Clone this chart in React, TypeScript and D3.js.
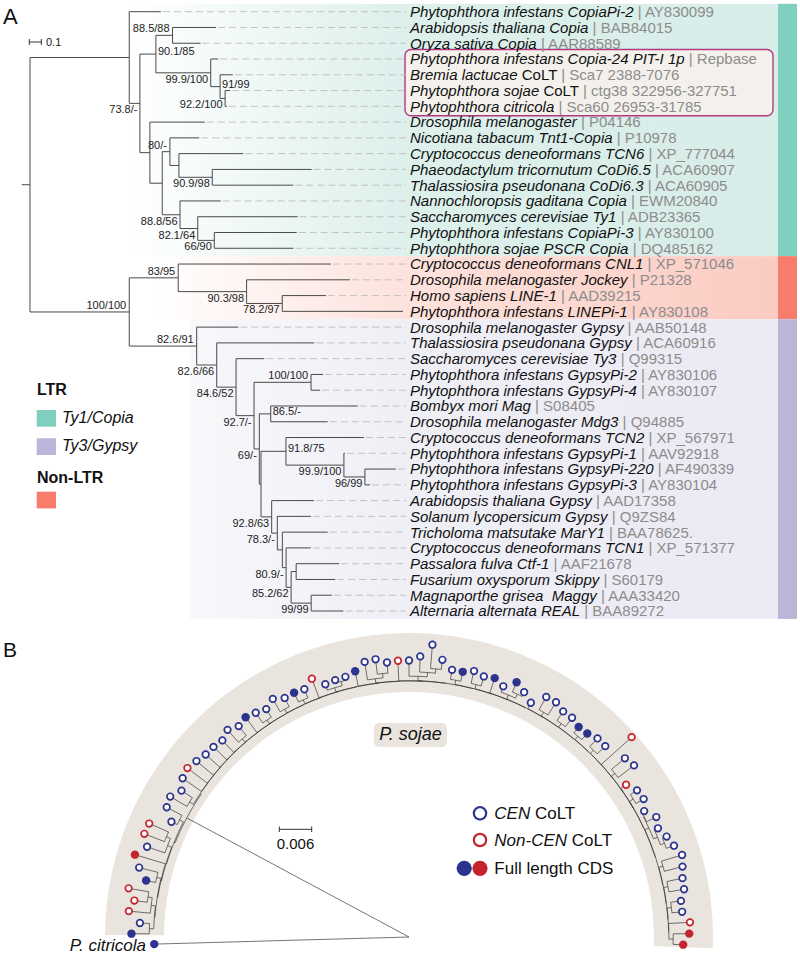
import React from 'react';
import * as d3 from 'd3';

const FONT = '"Liberation Sans", Arial, Helvetica, sans-serif';

// ---------------- Panel A data ----------------
const leafNames: [string, string][] = [
  ["Phytophthora infestans CopiaPi-2", ""],
  ["Arabidopsis thaliana Copia", ""],
  ["Oryza sativa Copia", ""],
  ["Phytophthora infestans Copia-24 PIT-I 1p", ""],
  ["Bremia lactucae", " CoLT"],
  ["Phytophthora sojae", " CoLT"],
  ["Phytophthora citricola", ""],
  ["Drosophila melanogaster", ""],
  ["Nicotiana tabacum Tnt1-Copia", ""],
  ["Cryptococcus deneoformans TCN6", ""],
  ["Phaeodactylum tricornutum CoDi6.5", ""],
  ["Thalassiosira pseudonana CoDi6.3", ""],
  ["Nannochloropsis gaditana Copia", ""],
  ["Saccharomyces cerevisiae Ty1", ""],
  ["Phytophthora infestans CopiaPi-3", ""],
  ["Phytophthora sojae PSCR Copia", ""],
  ["Cryptococcus deneoformans CNL1", ""],
  ["Drosophila melanogaster Jockey", ""],
  ["Homo sapiens LINE-1", ""],
  ["Phytophthora infestans LINEPi-1", ""],
  ["Drosophila melanogaster Gypsy", ""],
  ["Thalassiosira pseudonana Gypsy", ""],
  ["Saccharomyces cerevisiae Ty3", ""],
  ["Phytophthora infestans GypsyPi-2", ""],
  ["Phytophthora infestans GypsyPi-4", ""],
  ["Bombyx mori Mag", ""],
  ["Drosophila melanogaster Mdg3", ""],
  ["Cryptococcus deneoformans TCN2", ""],
  ["Phytophthora infestans GypsyPi-1", ""],
  ["Phytophthora infestans GypsyPi-220", ""],
  ["Phytophthora infestans GypsyPi-3", ""],
  ["Arabidopsis thaliana Gypsy", ""],
  ["Solanum lycopersicum Gypsy", ""],
  ["Tricholoma matsutake MarY1", ""],
  ["Cryptococcus deneoformans TCN1", ""],
  ["Passalora fulva Ctf-1", ""],
  ["Fusarium oxysporum Skippy", ""],
  ["Magnaporthe grisea  Maggy", ""],
  ["Alternaria alternata REAL", ""],
];

const accessions = [
  "AY830099", "BAB84015", "AAR88589", "Repbase", "Sca7 2388-7076", "ctg38 322956-327751",
  "Sca60 26953-31785", "P04146", "P10978", "XP_777044", "ACA60907", "ACA60905", "EWM20840",
  "ADB23365", "AY830100", "DQ485162", "XP_571046", "P21328", "AAD39215", "AY830108",
  "AAB50148", "ACA60916", "Q99315", "AY830106", "AY830107", "S08405", "Q94885", "XP_567971",
  "AAV92918", "AF490339", "AY830104", "AAD17358", "Q9ZS84", "BAA78625.", "XP_571377",
  "AAF21678", "S60179", "AAA33420", "BAA89272",
];

// [id, parentId, branch length, support]
type Row = [string, string | null, number, string];
const treeRowsA: Row[] = [
  ["root", null, 0, ""],
  ["C0", "root", 0.827, ""],
  ["0", "C0", 0.264, ""],
  ["C1", "C0", 0.089, "73.8/-"],
  ["C2", "C1", 0.133, "90.1/85"],
  ["C3", "C2", 0.139, "88.5/88"],
  ["1", "C3", 0.361, ""],
  ["2", "C3", 0.233, ""],
  ["C4", "C2", 0.457, "99.9/100"],
  ["3", "C4", 0.063, ""],
  ["C5", "C4", 0.078, "91/99"],
  ["4", "C5", 0.106, ""],
  ["C6", "C5", 0.042, "92.2/100"],
  ["5", "C6", 0.042, ""],
  ["6", "C6", 0.014, ""],
  ["C7", "C1", 0.083, ""],
  ["7", "C7", 0.458, ""],
  ["C8", "C7", 0.103, ""],
  ["C9", "C8", 0.064, "80/-"],
  ["8", "C9", 0.244, ""],
  ["C10", "C9", 0.075, ""],
  ["9", "C10", 0.536, ""],
  ["C11", "C10", 0.278, "90.9/98"],
  ["10", "C11", 0.828, ""],
  ["11", "C11", 0.675, ""],
  ["C12", "C8", 0.148, "88.8/56"],
  ["12", "C12", 0.339, ""],
  ["C13", "C12", 0.148, "82.1/64"],
  ["13", "C13", 0.833, ""],
  ["C14", "C13", 0.138, "66/90"],
  ["14", "C14", 0.687, ""],
  ["15", "C14", 0.658, ""],
  ["R2", "root", 0.827, "100/100"],
  ["N0", "R2", 0.408, "83/95"],
  ["16", "N0", 1.273, ""],
  ["N1", "N0", 0.57, "90.3/98"],
  ["17", "N1", 0.861, ""],
  ["N2", "N1", 0.297, "78.2/97"],
  ["18", "N2", 0.364, ""],
  ["19", "N2", 1.006, ""],
  ["G0", "R2", 0.562, "82.6/91"],
  ["20", "G0", 0.347, ""],
  ["G1", "G0", 0.167, "82.6/66"],
  ["21", "G1", 0.813, ""],
  ["G2", "G1", 0.161, "84.6/52"],
  ["22", "G2", 0.236, ""],
  ["G3", "G2", 0.15, "92.7/-"],
  ["G4", "G3", 0.475, "100/100"],
  ["23", "G4", 0.1, ""],
  ["24", "G4", 0.075, ""],
  ["G5", "G3", 0.044, "69/-"],
  ["G6", "G5", 0.095, "86.5/-"],
  ["25", "G6", 0.725, ""],
  ["26", "G6", 0.475, ""],
  ["G7", "G5", 0.014, ""],
  ["G8", "G7", 0.208, "91.8/75"],
  ["27", "G8", 0.65, ""],
  ["G9", "G8", 0.483, "99.9/100"],
  ["28", "G9", 0.008, ""],
  ["G10", "G9", 0.175, "96/99"],
  ["29", "G10", 0.258, ""],
  ["30", "G10", 0.042, ""],
  ["G11", "G7", 0.089, "92.8/63"],
  ["31", "G11", 0.353, ""],
  ["G12", "G11", 0.047, "78.3/-"],
  ["32", "G12", 0.281, ""],
  ["G13", "G12", 0.042, ""],
  ["33", "G13", 0.378, ""],
  ["G14", "G13", 0.031, "80.9/-"],
  ["34", "G14", 0.206, ""],
  ["G15", "G14", 0.042, "85.2/62"],
  ["G16", "G15", 0.042, ""],
  ["35", "G16", 0.358, ""],
  ["36", "G16", 0.325, ""],
  ["G17", "G15", 0.167, "99/99"],
  ["37", "G17", 0.173, ""],
  ["38", "G17", 0.269, ""],
];

const cladesA = [
  { name: "Ty1/Copia", from: 0, to: 15 },
  { name: "Non-LTR", from: 16, to: 19 },
  { name: "Ty3/Gypsy", from: 20, to: 38 },
];
const highlightRows = [3, 6];
const supportAbove = ["88.5/88", "80/-", "100/100", "83/95", "82.6/91"];
const supportRight = ["90.1/85", "91/99", "86.5/-", "91.8/75"];

// ---------------- Panel B data ----------------
// o = CEN CoLT, r = Non-CEN CoLT, B / R = full length CDS (blue / red)
const bLeafKinds = [
  "B", "o", "r", "r", "r", "B", "o", "R", "o", "r",
  "r", "o", "o", "o", "o", "o", "r", "o", "o", "o",
  "o", "o", "o", "B", "o", "o", "o", "o", "B", "o",
  "r", "o", "o", "o", "B", "o", "o", "o", "r", "o",
  "o", "o", "o", "o", "B", "o", "o", "B", "o", "B",
  "o", "o", "o", "o", "o", "o", "B", "B", "o", "o",
  "r", "o", "o", "r", "o", "o", "o", "o", "o", "o",
  "o", "o", "o", "o", "o", "o", "o", "r", "R", "R",
];
// root-to-tip distance, in units of 0.001
const bTipDist = [
  51.4, 49.9, 52.1, 51.3, 52.7, 49.8, 51.6, 53.0, 51.3, 52.6,
  52.5, 48.9, 50.9, 51.3, 50.1, 51.2, 51.6, 51.1, 50.6, 50.5,
  50.2, 51.0, 50.2, 50.7, 50.3, 49.8, 50.8, 49.9, 50.0, 49.8,
  51.1, 49.3, 49.5, 49.6, 50.2, 51.6, 51.8, 51.0, 51.2, 51.2,
  52.0, 54.3, 51.7, 50.1, 50.1, 50.7, 50.2, 50.5, 49.6, 51.2,
  50.1, 48.9, 51.2, 51.3, 50.6, 50.6, 50.0, 50.1, 50.7, 50.7,
  55.4, 51.9, 52.4, 49.1, 50.2, 50.4, 49.4, 50.9, 50.3, 51.2,
  51.9, 52.8, 52.3, 51.8, 51.7, 50.8, 50.8, 52.1, 51.9, 50.8,
];
const bLeftGroups = [2, 3, 2, 1, 3, 2];
const bRightGroups = [2, 1, 1, 1, 1, 1, 1, 2, 1, 2, 2, 2, 1, 3, 1, 3, 1, 4, 2, 2, 1, 3, 1, 2, 2, 2, 2, 1, 2, 1, 2, 5, 2, 2, 2, 1, 2];
const citricolaDist = 47.2;
const sojaeDist = 46.7;
const ladderBase = 46.9;
const leftStep = 0.1;
const rightStep = 0.035;

const BLUE = "#2b338f";
const RED = "#c4242d";

// ---------------- Layout A ----------------
const xA = d3.scaleLinear().domain([0, 1]).range([30, 150]);
const yA = d3.scaleLinear().domain([0, 38]).range([11.7, 611]);

function layoutA() {
  const root: any = d3.stratify<Row>().id(d => d[0]).parentId(d => d[1])(treeRowsA);
  root.eachBefore((n: any) => { n.cum = n.parent ? n.parent.cum + n.data[2] : 0; n.px = xA(n.cum); });
  root.leaves().forEach((l: any, i: number) => { l.py = yA(i); l.idx = i; });
  root.eachAfter((n: any) => {
    if (n.children) n.py = (n.children[0].py + n.children[n.children.length - 1].py) / 2;
  });
  return root;
}

// ---------------- Layout B ----------------
type BN = { kind?: string; dist: number; children?: BN[]; citricola?: boolean };
function buildB(): BN {
  const leaves: BN[] = bLeafKinds.map((k, i) => ({ kind: k, dist: bTipDist[i] }));
  let pos = 0;
  const take = (n: number) => { const s = leaves.slice(pos, pos + n); pos += n; return s; };
  const group = (ls: BN[], base: number): BN => {
    if (ls.length === 1) return ls[0];
    const minTip = Math.min(...ls.map(l => l.dist));
    const d = Math.min(base + 0.8, minTip - 0.5);
    if (ls.length === 2) return { dist: d, children: ls };
    if (ls.length === 5) return { dist: d, children: [group(ls.slice(0, 2), d), group(ls.slice(2), d)] };
    return { dist: d, children: [ls[0], group(ls.slice(1), d)] };
  };
  const lg = bLeftGroups.map(take);
  const rg = bRightGroups.map(take);
  const nL = lg.length;
  const depthL = (k: number) => ladderBase + (nL - 1 - k) * leftStep;
  let left: BN = group(lg[0], depthL(1));
  for (let k = 1; k < nL; k++) left = { dist: depthL(k), children: [left, group(lg[k], depthL(k))] };
  const m = rg.length;
  let right: BN = group(rg[m - 1], ladderBase + (m - 2) * rightStep);
  for (let k = m - 2; k >= 0; k--) {
    const d = ladderBase + k * rightStep;
    right = { dist: d, children: [group(rg[k], d), right] };
  }
  return {
    dist: 0,
    children: [
      { kind: "B", dist: citricolaDist, citricola: true },
      { dist: sojaeDist, children: [left, right] },
    ],
  };
}

const CX = 409, CY = 937;
const rB = d3.scaleLinear().domain([0, 6]).range([0, 32.4]);
const aB = d3.scaleLinear().domain([0, 80]).range([-91.6, 91.6]);
const pol = (r: number, a: number): [number, number] => {
  const t = (a * Math.PI) / 180;
  return [CX + r * Math.sin(t), CY - r * Math.cos(t)];
};

function layoutB() {
  const root: any = d3.hierarchy(buildB());
  root.leaves().forEach((l: any, i: number) => { l.ang = aB(i); });
  root.eachAfter((n: any) => {
    if (n.children) n.ang = (n.children[0].ang + n.children[n.children.length - 1].ang) / 2;
    n.rad = rB(n.data.dist);
  });
  return root;
}

export default function App() {
  const rootA = layoutA();
  const nodesA: any[] = rootA.descendants();
  const leavesA: any[] = rootA.leaves();

  const rootB = layoutB();
  const nodesB: any[] = rootB.descendants();
  const leavesB: any[] = rootB.leaves();

  const band = d3.arc()({
    innerRadius: 245,
    outerRadius: 304,
    startAngle: (-89.6 * Math.PI) / 180,
    endAngle: (92.1 * Math.PI) / 180,
  } as any) as string;

  const linkB = (n: any) => {
    const p = n.parent;
    if (p.rad === 0) {
      const [x, y] = pol(n.rad, n.ang);
      return `M${pol(0, 0)[0]},${pol(0, 0)[1]}L${x},${y}`;
    }
    const [x0, y0] = pol(p.rad, p.ang);
    const [x1, y1] = pol(p.rad, n.ang);
    const [x2, y2] = pol(n.rad, n.ang);
    const sweep = n.ang > p.ang ? 1 : 0;
    return `M${x0},${y0}A${p.rad},${p.rad} 0 0 ${sweep} ${x1},${y1}L${x2},${y2}`;
  };

  const gradDefs = [
    { id: "gCopia", x1: 130, stops: [["0", "#ffffff"], ["0.42", "#ddf0ec"], ["1", "#d7ede8"]] },
    { id: "gNon", x1: 150, stops: [["0", "#ffffff"], ["0.4", "#fde3dd"], ["1", "#fbcbc1"]] },
    { id: "gGypsy", x1: 190, stops: [["0", "#f8f8fb"], ["0.35", "#efeff6"], ["1", "#ebeaf4"]] },
  ];
  const stripColors = ["#80cfbf", "#f77c6c", "#b9b6d9"];
  const legendColors = ["#80cfbf", "#b9b6d9", "#f77c6c"];

  return (
    <svg width={800} height={956} style={{ position: "absolute", left: 0, top: 0, background: "#fff" }}
      fontFamily={FONT}>
      <defs>
        {gradDefs.map(g => (
          <linearGradient key={g.id} id={g.id} gradientUnits="userSpaceOnUse" x1={g.x1} x2={778} y1={0} y2={0}>
            {g.stops.map(s => <stop key={s[0]} offset={s[0]} stopColor={s[1]} />)}
          </linearGradient>
        ))}
      </defs>

      {/* ---------- Panel A ---------- */}
      {cladesA.map((c, i) => (
        <g key={c.name}>
          <rect x={gradDefs[i].x1} y={yA(c.from - 0.5)} width={778 - gradDefs[i].x1}
            height={yA(c.to + 0.5) - yA(c.from - 0.5)} fill={`url(#${gradDefs[i].id})`} />
          <rect x={778} y={yA(c.from - 0.5)} width={19} height={yA(c.to + 0.5) - yA(c.from - 0.5)}
            fill={stripColors[i]} />
        </g>
      ))}
      <rect x={405} y={yA(highlightRows[0] - 0.6)} width={368}
        height={yA(highlightRows[1] + 0.6) - yA(highlightRows[0] - 0.6)} rx={6}
        fill="#f4f1ed" stroke="#b4387f" strokeWidth={1.4} />

      <text x={3} y={24} fontSize={22} fill="#111">A</text>
      <g stroke="#333" strokeWidth={1}>
        <line x1={xA(0) - 0.7} x2={xA(0.1) - 0.7} y1={42} y2={42} />
        <line x1={xA(0) - 0.7} x2={xA(0) - 0.7} y1={39} y2={45} />
        <line x1={xA(0.1) - 0.7} x2={xA(0.1) - 0.7} y1={39} y2={45} />
      </g>
      <text x={46} y={46} fontSize={11} fill="#222">0.1</text>

      {/* dashed leaders */}
      <g stroke="#bdbdbd" strokeWidth={0.9} strokeDasharray="7,4">
        {leavesA.filter(l => l.px < 400).map(l => (
          <line key={l.id} x1={l.px + 2} x2={406} y1={l.py} y2={l.py} />
        ))}
      </g>
      {/* tree */}
      <g stroke="#4a4a4a" strokeWidth={1} fill="none">
        <line x1={21.7} x2={rootA.px} y1={rootA.py} y2={rootA.py} />
        {nodesA.filter(n => n.parent).map(n => (
          <line key={"h" + n.id} x1={n.parent.px} x2={n.px} y1={n.py} y2={n.py} />
        ))}
        {nodesA.filter(n => n.children).map(n => (
          <line key={"v" + n.id} x1={n.px} x2={n.px}
            y1={n.children[0].py} y2={n.children[n.children.length - 1].py} />
        ))}
      </g>
      {/* supports */}
      <g fontSize={11} fill="#222">
        {nodesA.filter(n => n.data[3]).map(n => {
          const s = n.data[3];
          if (supportRight.includes(s))
            return <text key={"s" + n.id} x={n.px + 2} y={n.py + 1}>{s}</text>;
          if (supportAbove.includes(s))
            return <text key={"s" + n.id} x={n.px - 3} y={n.py - 3} textAnchor="end">{s}</text>;
          return <text key={"s" + n.id} x={n.px - 2.5} y={n.py + 10} textAnchor="end">{s}</text>;
        })}
      </g>
      {/* leaf labels */}
      <g fontSize={15} fill="#111">
        {leavesA.map((l, i) => (
          <text key={"t" + i} x={410} y={l.py} dy="0.36em" style={{ whiteSpace: "pre" }}>
            <tspan fontStyle="italic">{leafNames[i][0]}</tspan>
            {leafNames[i][1] ? <tspan>{leafNames[i][1]}</tspan> : null}
            <tspan fill="#8c8c8c">{" | " + accessions[i]}</tspan>
          </text>
        ))}
      </g>
      {/* legend A */}
      <text x={37} y={395} fontSize={16} fontWeight="bold" fill="#111">LTR</text>
      <rect x={36.7} y={410} width={19.3} height={16.7} fill={legendColors[0]} />
      <text x={62} y={423} fontSize={16} fontStyle="italic" fill="#111">{cladesA[0].name}</text>
      <rect x={36.7} y={438.3} width={19.3} height={16.7} fill={legendColors[1]} />
      <text x={62} y={451} fontSize={16} fontStyle="italic" fill="#111">{cladesA[2].name}</text>
      <text x={37} y={483} fontSize={16} fontWeight="bold" fill="#111">{cladesA[1].name}</text>
      <rect x={36.7} y={491.7} width={19.3} height={16.7} fill={legendColors[2]} />

      {/* ---------- Panel B ---------- */}
      <text x={3} y={657} fontSize={21} fill="#111">B</text>
      <path d={band} transform={`translate(${CX},${CY})`} fill="#e9e5de" />
      <rect x={374} y={723} width={73} height={24} rx={5} fill="#e9e5de" />
      <text x={410.5} y={740} fontSize={18} fontStyle="italic" textAnchor="middle" fill="#111">P. sojae</text>

      <g stroke="#2a2a2a" strokeWidth={0.65} fill="none">
        {nodesB.filter(n => n.parent).map((n, i) => <path key={"b" + i} d={linkB(n)} />)}
      </g>
      {leavesB.map((l, i) => {
        const [x, y] = pol(l.rad, l.ang);
        const k = l.data.kind;
        const col = k === "o" || k === "B" ? BLUE : RED;
        const filled = k === "B" || k === "R";
        return filled
          ? <circle key={"c" + i} cx={x} cy={y} r={4.2} fill={col} />
          : <circle key={"c" + i} cx={x} cy={y} r={3.3} fill="#fff" stroke={col} strokeWidth={1.7} />;
      })}
      <text x={146} y={951} fontSize={17} fontStyle="italic" textAnchor="end" fill="#111">P. citricola</text>

      {/* scale bar B */}
      <g stroke="#333" strokeWidth={1}>
        <line x1={279.3} x2={279.3 + rB(6)} y1={829.3} y2={829.3} />
        <line x1={279.3} x2={279.3} y1={826.5} y2={832} />
        <line x1={279.3 + rB(6)} x2={279.3 + rB(6)} y1={826.5} y2={832} />
      </g>
      <text x={279.3 + rB(3)} y={849} fontSize={15} textAnchor="middle" fill="#111">0.006</text>

      {/* legend B */}
      <circle cx={480} cy={813.3} r={6.2} fill="#fff" stroke={BLUE} strokeWidth={2.2} />
      <text x={494.3} y={819} fontSize={17} fill="#111"><tspan fontStyle="italic">CEN</tspan> CoLT</text>
      <circle cx={480} cy={840} r={6.2} fill="#fff" stroke={RED} strokeWidth={2.2} />
      <text x={494.3} y={846} fontSize={17} fill="#111"><tspan fontStyle="italic">Non-CEN</tspan> CoLT</text>
      <circle cx={464.2} cy={868.3} r={7.6} fill={BLUE} />
      <circle cx={480} cy={868.3} r={7.6} fill={RED} />
      <text x={494.3} y={874} fontSize={17} fill="#111">Full length CDS</text>
    </svg>
  );
}
